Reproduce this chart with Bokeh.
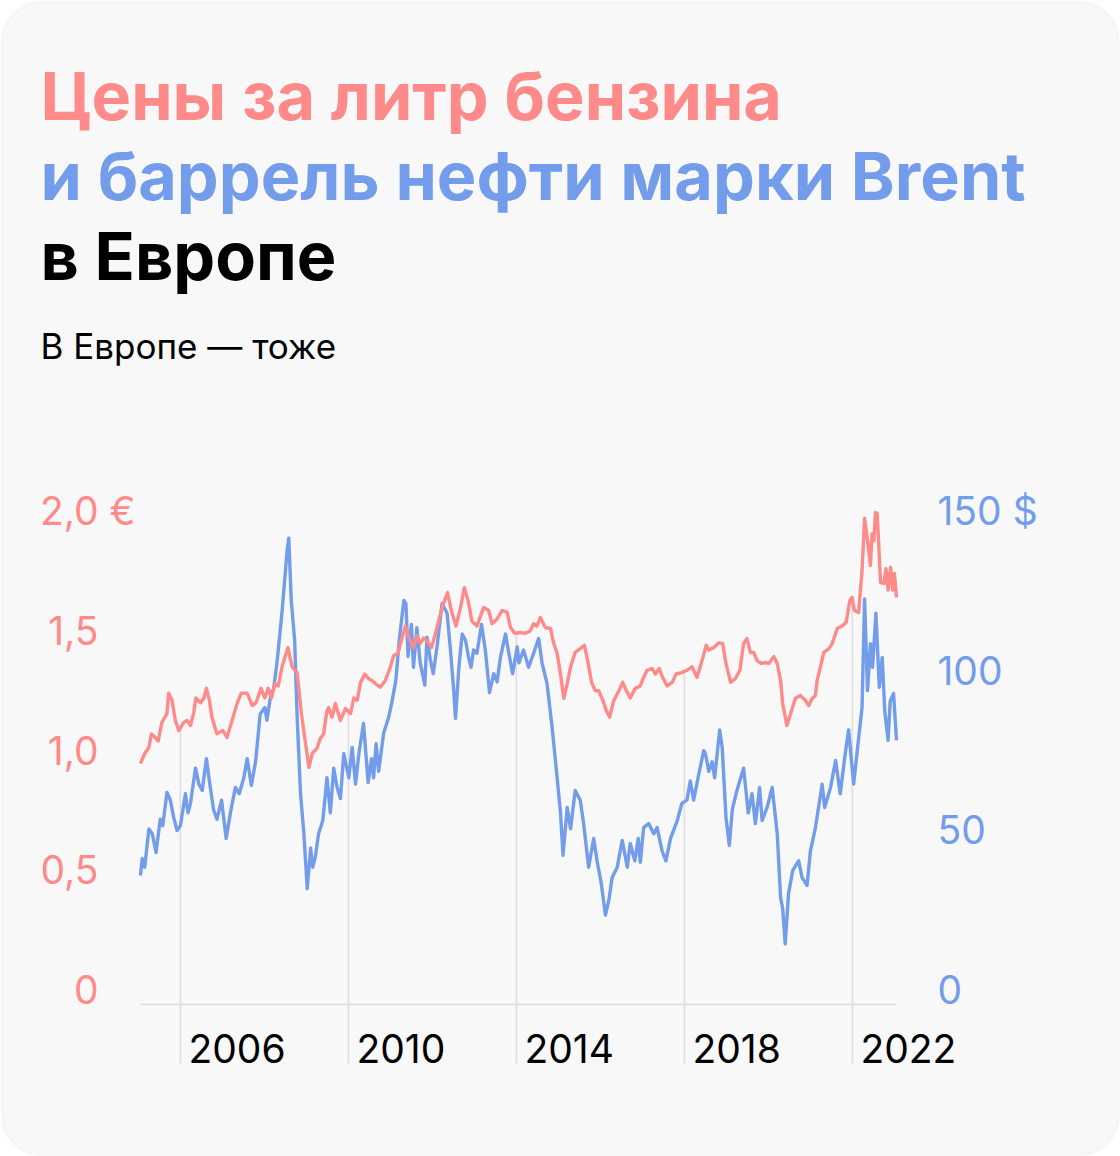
import numpy as np
from bokeh.plotting import figure
from bokeh.models import Range1d, Label, ColumnDataSource, BoxAnnotation
from bokeh.core.properties import value
from bokeh.embed import file_html
from bokeh.resources import INLINE

# ---------------- data ----------------
gas_t = [2005.05, 2005.15, 2005.25, 2005.31, 2005.40, 2005.47, 2005.56, 2005.68, 2005.72, 2005.80,
         2005.88, 2005.96, 2006.08, 2006.16, 2006.24, 2006.32, 2006.37, 2006.48, 2006.56, 2006.62,
         2006.69, 2006.75, 2006.87, 2007.01, 2007.11, 2007.23, 2007.35, 2007.45, 2007.59, 2007.71,
         2007.80, 2007.92, 2008.01, 2008.09, 2008.17, 2008.25, 2008.33, 2008.42, 2008.56, 2008.66,
         2008.78, 2008.88, 2008.98, 2009.06, 2009.14, 2009.25, 2009.33, 2009.41, 2009.49, 2009.53,
         2009.61, 2009.69, 2009.81, 2009.93, 2010.05, 2010.13, 2010.21, 2010.29, 2010.39, 2010.48,
         2010.56, 2010.64, 2010.76, 2010.88, 2011.00, 2011.08, 2011.18, 2011.26, 2011.36, 2011.44,
         2011.55, 2011.63, 2011.71, 2011.79, 2011.87, 2011.98, 2012.11, 2012.23, 2012.36, 2012.45,
         2012.56, 2012.67, 2012.76, 2012.85, 2012.94, 2013.06, 2013.22, 2013.34, 2013.42, 2013.54,
         2013.66, 2013.78, 2013.86, 2013.96, 2014.10, 2014.21, 2014.33, 2014.41, 2014.49, 2014.57,
         2014.69, 2014.81, 2014.89, 2014.97, 2015.05, 2015.13, 2015.21, 2015.29, 2015.40, 2015.52,
         2015.62, 2015.71, 2015.79, 2015.88, 2015.96, 2016.06, 2016.14, 2016.22, 2016.32, 2016.44,
         2016.53, 2016.62, 2016.71, 2016.83, 2016.95, 2017.03, 2017.11, 2017.23, 2017.31, 2017.40,
         2017.48, 2017.59, 2017.71, 2017.80, 2017.94, 2018.06, 2018.18, 2018.30, 2018.42, 2018.52,
         2018.58, 2018.70, 2018.82, 2018.91, 2018.99, 2019.10, 2019.21, 2019.32, 2019.41, 2019.49,
         2019.57, 2019.65, 2019.73, 2019.83, 2019.93, 2020.01, 2020.13, 2020.21, 2020.29, 2020.34,
         2020.44, 2020.55, 2020.64, 2020.76, 2020.88, 2020.96, 2021.04, 2021.12, 2021.16, 2021.24,
         2021.32, 2021.44, 2021.52, 2021.64, 2021.75, 2021.85, 2021.94, 2021.99, 2022.05, 2022.15,
         2022.19, 2022.23, 2022.29, 2022.36, 2022.43, 2022.47, 2022.51, 2022.55, 2022.59, 2022.67,
         2022.75, 2022.80, 2022.85, 2022.91, 2022.96, 2023.00, 2023.05]
gas_eur = [1.006, 1.048, 1.073, 1.13, 1.115, 1.10, 1.178, 1.215, 1.30, 1.27,
           1.186, 1.144, 1.178, 1.186, 1.165, 1.22, 1.28, 1.26, 1.28, 1.32,
           1.27, 1.20, 1.13, 1.144, 1.115, 1.186, 1.257, 1.30, 1.30, 1.248,
           1.26, 1.32, 1.28, 1.32, 1.28, 1.34, 1.33, 1.41, 1.49, 1.41,
           1.386, 1.215, 1.09, 0.99, 1.048, 1.069, 1.11, 1.13, 1.227, 1.24,
           1.20, 1.257, 1.186, 1.236, 1.215, 1.28, 1.27, 1.345, 1.38, 1.36,
           1.353, 1.34, 1.325, 1.353, 1.41, 1.457, 1.466, 1.52, 1.58, 1.53,
           1.49, 1.54, 1.507, 1.53, 1.52, 1.49, 1.574, 1.658, 1.72, 1.645,
           1.58, 1.658, 1.74, 1.687, 1.60, 1.58, 1.658, 1.645, 1.59, 1.61,
           1.645, 1.637, 1.574, 1.55, 1.553, 1.55, 1.56, 1.59, 1.58, 1.616,
           1.574, 1.57, 1.507, 1.466, 1.38, 1.278, 1.34, 1.41, 1.47, 1.486,
           1.50, 1.424, 1.345, 1.31, 1.31, 1.27, 1.227, 1.20, 1.27, 1.31,
           1.345, 1.31, 1.28, 1.32, 1.33, 1.366, 1.395, 1.403, 1.38, 1.403,
           1.366, 1.33, 1.345, 1.38, 1.386, 1.395, 1.41, 1.366, 1.436, 1.50,
           1.48, 1.49, 1.51, 1.507, 1.424, 1.345, 1.36, 1.395, 1.507, 1.528,
           1.47, 1.47, 1.436, 1.424, 1.428, 1.424, 1.453, 1.424, 1.353, 1.257,
           1.165, 1.227, 1.278, 1.29, 1.27, 1.248, 1.278, 1.29, 1.353, 1.41,
           1.47, 1.486, 1.507, 1.57, 1.58, 1.595, 1.687, 1.70, 1.645, 1.637,
           1.73, 1.81, 2.03, 1.937, 1.833, 1.966, 1.937, 2.054, 2.05, 1.762,
           1.758, 1.82, 1.73, 1.825, 1.73, 1.80, 1.70]

brent_t = [2005.05, 2005.09, 2005.15, 2005.25, 2005.33, 2005.42, 2005.52, 2005.58, 2005.68, 2005.76,
           2005.84, 2005.92, 2006.00, 2006.12, 2006.18, 2006.24, 2006.36, 2006.44, 2006.52, 2006.62,
           2006.69, 2006.79, 2006.87, 2006.98, 2007.09, 2007.19, 2007.31, 2007.40, 2007.51, 2007.59,
           2007.69, 2007.79, 2007.90, 2008.01, 2008.06, 2008.14, 2008.22, 2008.30, 2008.42, 2008.54,
           2008.58, 2008.64, 2008.72, 2008.78, 2008.86, 2008.94, 2009.02, 2009.10, 2009.15, 2009.21,
           2009.29, 2009.39, 2009.49, 2009.57, 2009.65, 2009.73, 2009.81, 2009.89, 2010.01, 2010.09,
           2010.17, 2010.25, 2010.36, 2010.47, 2010.55, 2010.60, 2010.66, 2010.72, 2010.84, 2010.96,
           2011.04, 2011.13, 2011.21, 2011.32, 2011.37, 2011.42, 2011.50, 2011.55, 2011.63, 2011.71,
           2011.82, 2011.87, 2011.95, 2012.02, 2012.11, 2012.23, 2012.35, 2012.43, 2012.51, 2012.55,
           2012.63, 2012.71, 2012.79, 2012.86, 2012.92, 2012.98, 2013.06, 2013.17, 2013.26, 2013.36,
           2013.46, 2013.54, 2013.62, 2013.74, 2013.82, 2013.91, 2014.02, 2014.06, 2014.17, 2014.29,
           2014.41, 2014.53, 2014.61, 2014.73, 2014.85, 2014.97, 2015.05, 2015.11, 2015.21, 2015.29,
           2015.40, 2015.52, 2015.60, 2015.72, 2015.84, 2015.92, 2016.02, 2016.12, 2016.20, 2016.28,
           2016.40, 2016.52, 2016.64, 2016.71, 2016.82, 2016.90, 2016.95, 2017.03, 2017.15, 2017.27,
           2017.35, 2017.47, 2017.56, 2017.67, 2017.83, 2017.94, 2018.06, 2018.14, 2018.22, 2018.34,
           2018.46, 2018.50, 2018.58, 2018.66, 2018.72, 2018.84, 2018.90, 2018.99, 2019.07, 2019.14,
           2019.25, 2019.41, 2019.52, 2019.61, 2019.69, 2019.79, 2019.85, 2019.97, 2020.09, 2020.21,
           2020.29, 2020.34, 2020.40, 2020.48, 2020.58, 2020.72, 2020.80, 2020.92, 2021.00, 2021.12,
           2021.28, 2021.34, 2021.48, 2021.60, 2021.71, 2021.83, 2021.91, 2022.03, 2022.15, 2022.23,
           2022.29, 2022.36, 2022.43, 2022.48, 2022.56, 2022.64, 2022.71, 2022.77, 2022.85, 2022.90,
           2022.98, 2023.05]
brent_usd = [40.4, 45.7, 43, 55, 53.5, 47.6, 58, 56, 66.4, 64,
             58.6, 54.5, 56, 66, 60, 63, 74, 69, 67, 77,
             70, 61, 58, 64, 52, 60, 68, 66, 71, 77,
             68.6, 76, 91, 93, 89, 96, 99, 107, 123, 142,
             146, 126.5, 114, 90, 66, 53.5, 36.3, 49, 43, 46,
             53.5, 57.6, 71, 60, 74, 68, 64.5, 78.6, 71, 80.5,
             69, 78.6, 88, 69.5, 77, 71, 81.7, 73, 85, 90,
             95, 101.5, 114, 126.5, 125.6, 109, 119, 105.6, 118, 107,
             100, 115, 108, 103.6, 112, 125.6, 122.5, 111, 98, 89.6,
             105.6, 116, 114, 108.7, 105.6, 111, 110, 119, 111, 97.7,
             103.6, 101, 108.7, 116, 110, 103.6, 112, 107, 111, 105.6,
             110, 114.6, 107, 100.5, 86.8, 71, 60, 46.7, 61.7, 55,
             67, 64, 56.7, 43, 52, 45, 38, 28, 32.6, 39.8,
             43, 51.4, 43, 50.4, 45, 52, 44.5, 55.4, 56.7, 53.5,
             55.4, 48, 45, 52, 57.6, 63, 64, 70, 64, 72,
             79.5, 78.6, 73, 76, 71, 86, 80.5, 58.6, 49.8, 61,
             67, 74, 60, 66, 56.7, 68, 57.6, 61.7, 68, 53.5,
             33.5, 30, 19, 34.8, 42, 45, 39.8, 37.3, 48, 55.4,
             69, 61.7, 68, 76.4, 66, 78.6, 86, 69, 83.6, 93,
             127, 98.3, 113, 105.6, 122.5, 99.3, 108.7, 92, 82.7, 95,
             97.4, 82.7]

year_ticks = [2006, 2010, 2014, 2018, 2022]
year_labels = ["2006", "2010", "2014", "2018", "2022"]
eur_ticks = [0, 0.5, 1.0, 1.5, 2.0]
eur_labels = ["0", "0,5", "1,0", "1,5", "2,0 €"]
usd_ticks = [0, 50, 100, 150]
usd_labels = ["0", "50", "100", "150 $"]

title_1 = "Цены за литр бензина"
title_2 = "и баррель нефти марки Brent"
title_3 = "в Европе"
subtitle = "В Европе — тоже"

# ---------------- style / layout ----------------
RED = "#FF8A8A"
BLUE = "#739DEB"
GRID = "#DCDCDC"
CARD = "#F8F8F8"
FONT = "Inter"
W, H = 1120, 1156
FL, FB = 140, 1004          # page pixel of data start (x) and of the zero line (y)
XPX = 42.0                  # pixels per year
EPX = 239.5                 # pixels per euro
UPX = EPX * 2.0 / 150.0     # pixels per dollar (2,0 € level == 150 $ level)
TICK_DROP = 59              # how far tick lines run below the axis, px
LBL_UP = 15                 # lift of tick labels (px)
TICK_FS = "39px"

x_start, x_end = min(gas_t), max(gas_t)

p = figure(width=W, height=H, output_backend="svg", toolbar_location=None,
           x_range=Range1d(x_start - FL / XPX, x_start + (W - FL) / XPX),
           y_range=Range1d(-(H - FB) / EPX, FB / EPX),
           x_axis_location=None, y_axis_location=None, min_border=0)
p.extra_y_ranges = {"usd": Range1d(-(H - FB) / UPX, FB / UPX)}
p.border_fill_color = "white"
p.background_fill_color = "white"
p.outline_line_color = None
p.xgrid.visible = False
p.ygrid.visible = False

card = BoxAnnotation(left=1.5, right=W - 1.5, top=H - 1.5, bottom=1.5,
                     left_units="screen", right_units="screen",
                     top_units="screen", bottom_units="screen",
                     fill_color=CARD, fill_alpha=1, line_color="#EAEAEA", line_width=3,
                     border_radius=40, level="underlay")
p.add_layout(card)

# axis line
p.line([x_start, x_end], [0, 0], line_color=GRID, line_width=1.5)

# vertical tick lines: from below the axis up to the petrol curve
tick_top = np.interp(year_ticks, gas_t, gas_eur)
p.segment(x0=year_ticks, y0=[-TICK_DROP / EPX] * len(year_ticks), x1=year_ticks, y1=tick_top,
          line_color=GRID, line_width=1.5)

p.line(brent_t, brent_usd, line_color=BLUE, line_width=3.4, y_range_name="usd",
       line_join="round")
p.line(gas_t, gas_eur, line_color=RED, line_width=3.4, line_join="round")

# tick labels
eur_src = ColumnDataSource(dict(x=[x_start] * 5, y=eur_ticks, text=eur_labels,
                                dx=[-42, -42, -42, -42, -5]))
p.text(x="x", y="y", text="text", x_offset="dx", y_offset=-LBL_UP, source=eur_src,
       text_align="right", text_baseline="alphabetic",
       text_font=value(FONT), text_font_size=TICK_FS, text_color=RED)

usd_src = ColumnDataSource(dict(x=[x_end] * 4, y=usd_ticks, text=usd_labels))
p.text(x="x", y="y", text="text", x_offset=41, y_offset=-LBL_UP, source=usd_src,
       y_range_name="usd", text_align="left", text_baseline="alphabetic",
       text_font=value(FONT), text_font_size=TICK_FS, text_color=BLUE)

yr_src = ColumnDataSource(dict(x=year_ticks, y=[-TICK_DROP / EPX] * 5, text=year_labels))
p.text(x="x", y="y", text="text", x_offset=8, y_offset=-LBL_UP, source=yr_src,
       text_align="left", text_baseline="alphabetic",
       text_font=value(FONT), text_font_size=TICK_FS, text_color="black")

# titles (screen units: from left / bottom of the canvas)
for txt, col, base in [(title_1, RED, 95), (title_2, BLUE, 175), (title_3, "black", 255)]:
    p.add_layout(Label(x=40, y=H - base, x_units="screen", y_units="screen",
                       text=txt, text_font=FONT, text_font_style="bold",
                       text_font_size="66.5px", text_color=col,
                       text_align="left", text_baseline="alphabetic"))
p.add_layout(Label(x=40, y=H - 345, x_units="screen", y_units="screen",
                   text=subtitle, text_font=FONT, text_font_size="35px",
                   text_color="black", text_align="left", text_baseline="alphabetic"))

open("out.html", "w").write(file_html(p, INLINE))
